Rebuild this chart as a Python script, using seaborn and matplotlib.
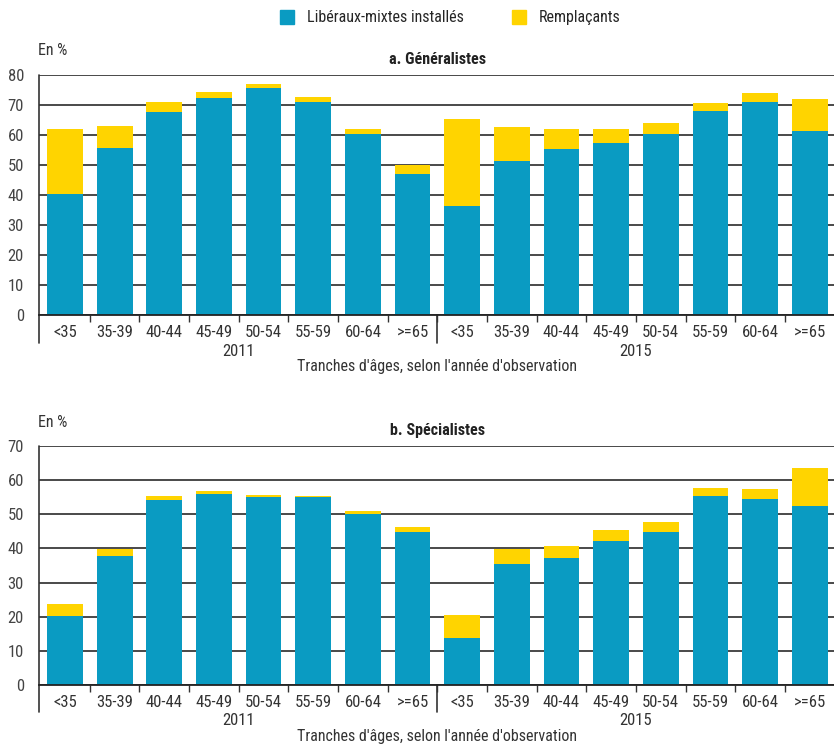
import pandas as pd
import matplotlib.pyplot as plt
import seaborn as sns

ages = ['<35', '35-39', '40-44', '45-49', '50-54', '55-59', '60-64', '>=65']
years = ['2011', '2015']

# Généralistes : part des libéraux-mixtes installés et total (installés + remplaçants)
gen_installes = [40.2, 55.6, 67.6, 72.4, 75.6, 71.1, 60.3, 47.0,
                 36.3, 51.4, 55.4, 57.2, 60.3, 68.0, 71.0, 61.2]
gen_total = [61.9, 63.0, 71.0, 74.3, 76.9, 72.6, 62.1, 50.0,
             65.2, 62.6, 62.1, 62.1, 63.9, 70.8, 73.9, 71.9]

# Spécialistes
spe_installes = [20.2, 37.8, 54.3, 56.0, 55.1, 55.1, 50.0, 44.7,
                 13.9, 35.4, 37.3, 42.1, 44.8, 55.3, 54.5, 52.5]
spe_total = [23.7, 39.7, 55.4, 56.9, 55.7, 55.4, 50.9, 46.2,
             20.5, 39.8, 40.7, 45.3, 47.7, 57.7, 57.3, 63.5]

BLUE = '#0a9bc2'
YELLOW = '#ffd400'
TXT = '#333333'

sns.set_theme(style="white")
plt.rcParams['font.family'] = ['Liberation Sans Narrow', 'DejaVu Sans Condensed',
                               'Roboto Condensed', 'DejaVu Sans']

keys = [f"{y} {a}" for y in years for a in ages]
labels = ages * 2

fig = plt.figure(figsize=(8.34, 7.44), dpi=100)
ax_top = fig.add_axes([0.047, 0.5766, 0.953, 0.3226])
ax_bot = fig.add_axes([0.047, 0.0793, 0.953, 0.3212])


def draw(ax, installes, total, ymax, title):
    df = pd.DataFrame({'cle': keys, 'installes': installes, 'total': total})
    sns.barplot(data=df, x='cle', y='total', order=keys, color=YELLOW,
                width=0.72, saturation=1, linewidth=0, ax=ax)
    sns.barplot(data=df, x='cle', y='installes', order=keys, color=BLUE,
                width=0.72, saturation=1, linewidth=0, ax=ax)
    ax.set_xlim(-0.52, 15.49)
    ax.set_ylim(0, ymax)
    ax.set_yticks(range(0, ymax + 1, 10))
    ax.yaxis.grid(True, color='#3a3a3a', lw=1.3)
    ax.set_axisbelow(True)
    for s in ['top', 'right', 'left']:
        ax.spines[s].set_visible(False)
    ax.spines['bottom'].set_color('#222222')
    ax.spines['bottom'].set_linewidth(1.3)
    ax.set_xticks(range(16))
    ax.set_xticklabels(labels, fontsize=12, color=TXT)
    ax.set_xticks([i + 0.5 for i in range(15)], minor=True)
    ax.tick_params(axis='x', which='major', length=0, pad=7)
    ax.tick_params(axis='x', which='minor', length=5, width=1, color=TXT,
                   direction='out', bottom=True)
    ax.tick_params(axis='y', length=0, labelsize=12, labelcolor='#444444', pad=11)
    ax.set_xlabel('')
    ax.set_ylabel('')
    trans = ax.get_xaxis_transform()
    ax.plot([-0.52, -0.52], [-0.115, 1], transform=trans, color=TXT,
            lw=1.2, clip_on=False)
    ax.plot([7.5, 7.5], [0, -0.115], transform=trans, color=TXT,
            lw=1.2, clip_on=False)
    ax.text(3.5, -0.15, '2011', transform=trans, ha='center', va='center',
            fontsize=12, color=TXT)
    ax.text(11.5, -0.15, '2015', transform=trans, ha='center', va='center',
            fontsize=12, color=TXT)
    ax.text(7.5, -0.215, "Tranches d'âges, selon l'année d'observation",
            transform=trans, ha='center', va='center', fontsize=11.5, color=TXT)
    ax.text(7.5, 1.065, title, transform=trans, ha='center', va='center',
            fontsize=11.5, fontweight='bold', color='#222222')
    ax.text(-0.55, 1.1, 'En %', transform=trans, ha='left', va='center',
            fontsize=11.5, color=TXT)


draw(ax_top, gen_installes, gen_total, 80, 'a. Généralistes')
draw(ax_bot, spe_installes, spe_total, 70, 'b. Spécialistes')

# légende commune en haut
handles = [plt.Rectangle((0, 0), 1, 1, color=BLUE),
           plt.Rectangle((0, 0), 1, 1, color=YELLOW)]
fig.legend(handles, ['Libéraux-mixtes installés', 'Remplaçants'],
           loc='center', bbox_to_anchor=(0.54, 0.976), ncol=2, frameon=False,
           fontsize=11.5, handlelength=0.9, handleheight=0.9, columnspacing=3,
           handletextpad=0.8)

fig.savefig('out.png', dpi=100)
